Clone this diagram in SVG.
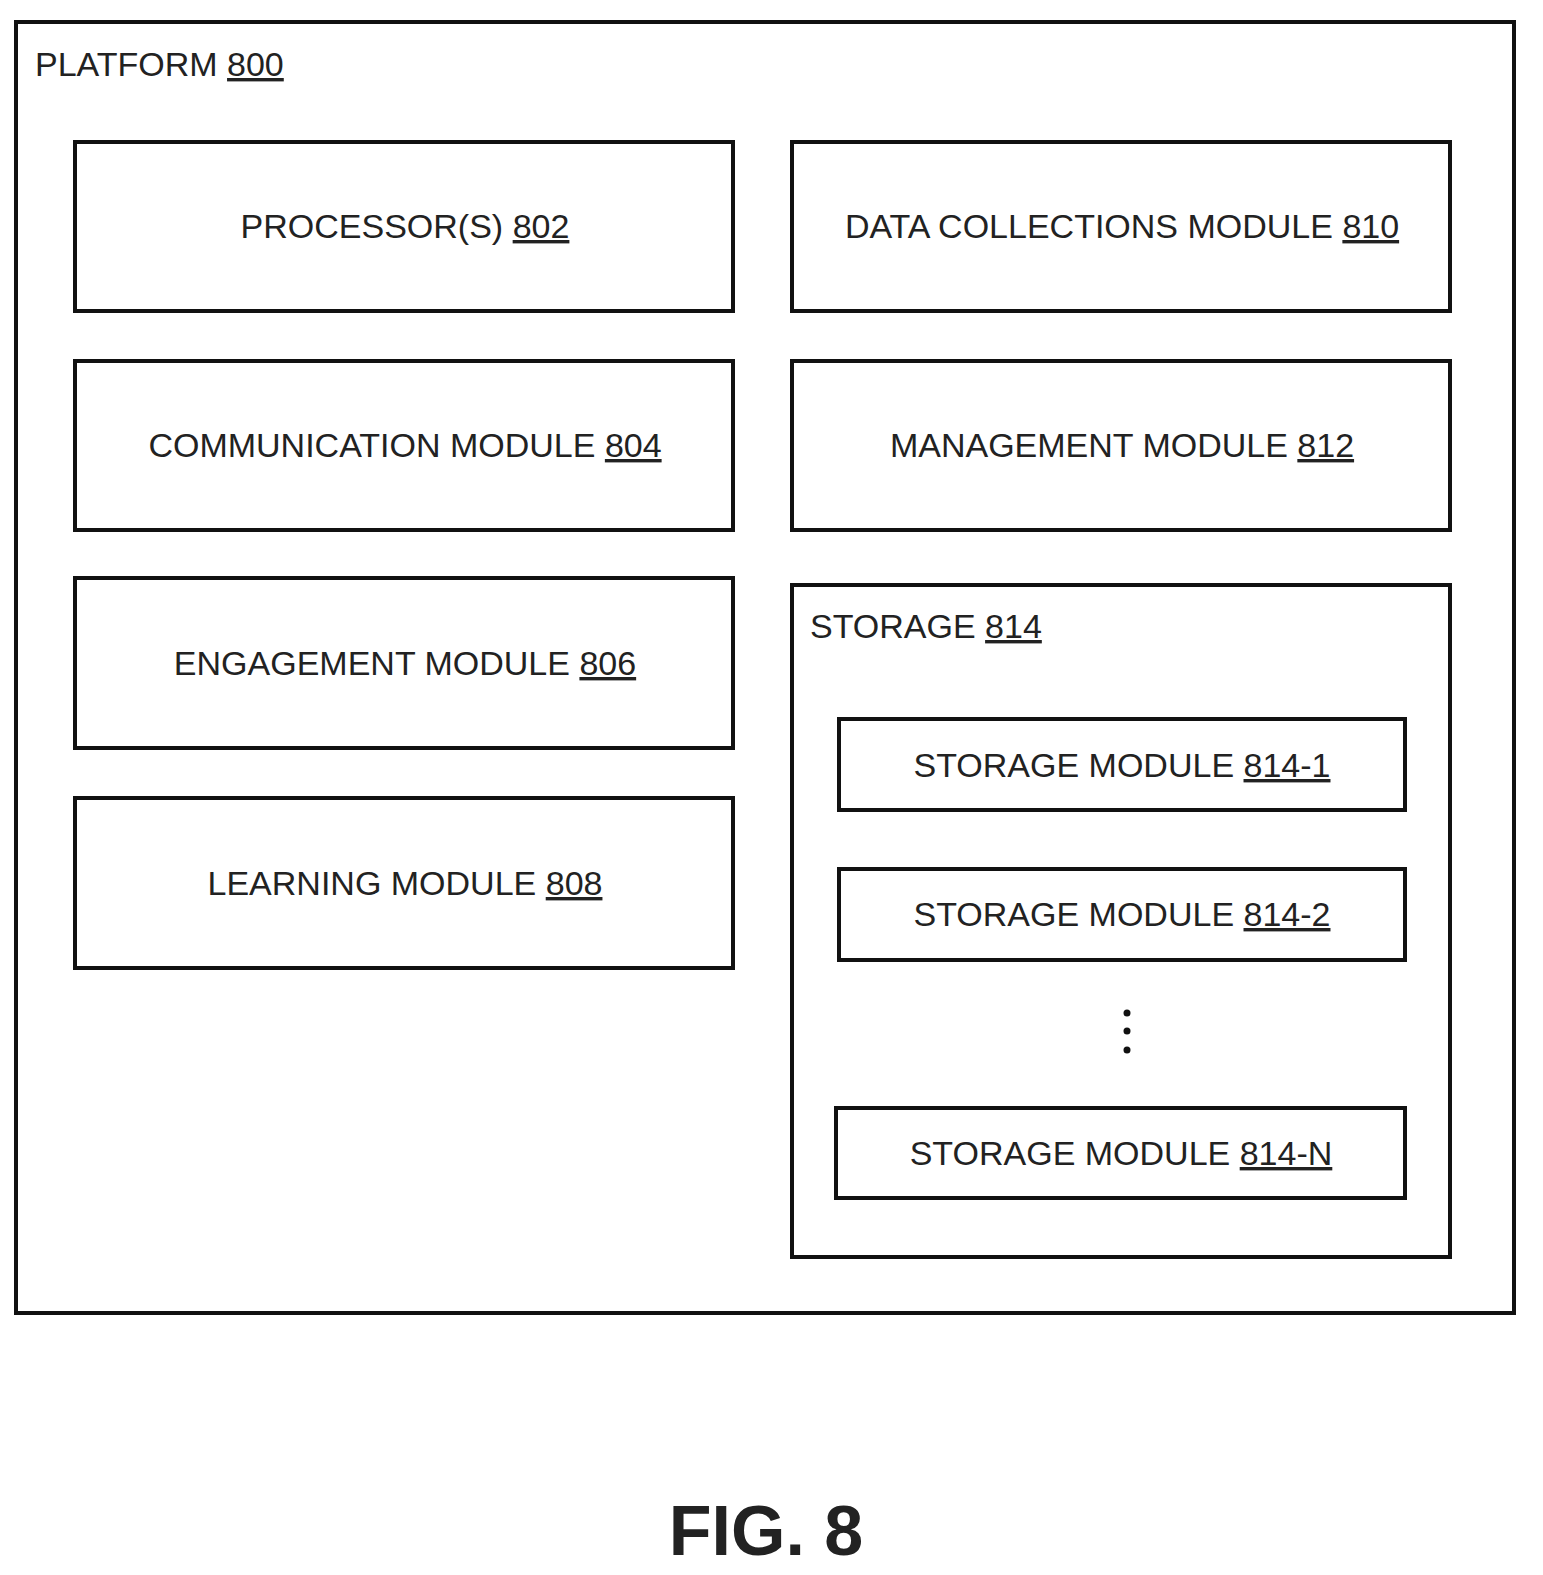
<svg xmlns="http://www.w3.org/2000/svg" width="1543" height="1575" viewBox="0 0 1543 1575">
<style>
rect{fill:#fff;stroke:#111;stroke-width:4}
text{font-family:"Liberation Sans",Arial,sans-serif;font-size:34px;fill:#222}
.c{text-anchor:middle}
.u{text-decoration:underline}
</style>
<rect x="0" y="0" width="1543" height="1575" style="stroke:none"/>
<g id="platform"><rect x="16" y="22" width="1498" height="1291"/><text x="35" y="76">PLATFORM <tspan class="u">800</tspan></text></g>
<g id="n802"><rect x="75" y="142" width="658" height="169"/><text class="c" x="405" y="238">PROCESSOR(S) <tspan class="u">802</tspan></text></g>
<g id="n804"><rect x="75" y="361" width="658" height="169"/><text class="c" x="405" y="457">COMMUNICATION MODULE <tspan class="u">804</tspan></text></g>
<g id="n806"><rect x="75" y="578" width="658" height="170"/><text class="c" x="405" y="675">ENGAGEMENT MODULE <tspan class="u">806</tspan></text></g>
<g id="n808"><rect x="75" y="798" width="658" height="170"/><text class="c" x="405" y="895">LEARNING MODULE <tspan class="u">808</tspan></text></g>
<g id="n810"><rect x="792" y="142" width="658" height="169"/><text class="c" x="1122" y="238">DATA COLLECTIONS MODULE <tspan class="u">810</tspan></text></g>
<g id="n812"><rect x="792" y="361" width="658" height="169"/><text class="c" x="1122" y="457">MANAGEMENT MODULE <tspan class="u">812</tspan></text></g>
<g id="n814"><rect x="792" y="585" width="658" height="672"/><text x="810" y="638">STORAGE <tspan class="u">814</tspan></text></g>
<g id="n814-1"><rect x="839" y="719" width="566" height="91"/><text class="c" x="1122" y="777">STORAGE MODULE <tspan class="u">814-1</tspan></text></g>
<g id="n814-2"><rect x="839" y="869" width="566" height="91"/><text class="c" x="1122" y="926">STORAGE MODULE <tspan class="u">814-2</tspan></text></g>
<g id="dots" fill="#111"><circle cx="1127" cy="1013" r="3.5"/><circle cx="1127" cy="1031" r="3.5"/><circle cx="1127" cy="1050" r="3.5"/></g>
<g id="n814-N"><rect x="836" y="1108" width="569" height="90"/><text class="c" x="1121" y="1165">STORAGE MODULE <tspan class="u">814-N</tspan></text></g>
<g id="connectors"/>
<text class="c" x="766" y="1555" style="font-size:70px;font-weight:bold">FIG. 8</text>
</svg>
